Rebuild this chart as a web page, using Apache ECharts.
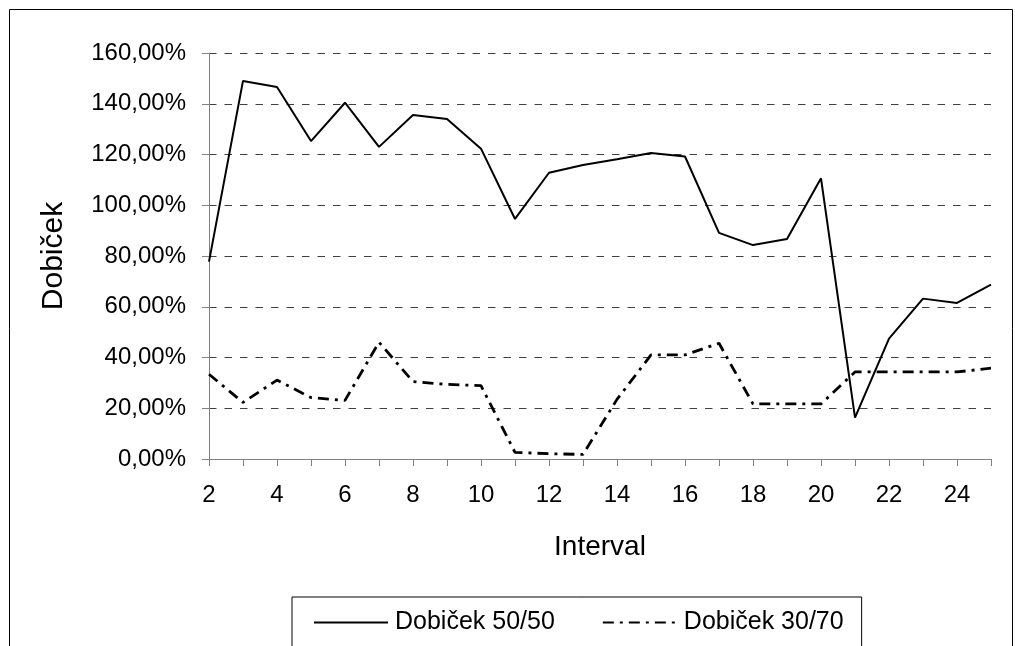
<!DOCTYPE html>
<html>
<head>
<meta charset="utf-8">
<script src="https://cdn.jsdelivr.net/npm/echarts@6/dist/echarts.min.js"></script>
<style>html,body{margin:0;padding:0;background:#fff}#c{width:1015px;height:646px}</style>
</head>
<body>
<div id="c"></div>
<script>
var categories = ['2','3','4','5','6','7','8','9','10','11','12','13','14','15','16','17','18','19','20','21','22','23','24','25'];
var dobicek5050 = [77.8,149.0,146.6,125.3,140.4,123.0,135.6,134.0,122.3,94.6,112.8,115.9,118.1,120.6,119.2,89.1,84.3,86.7,110.6,16.3,47.4,63.2,61.5,68.7];
var dobicek3070 = [33.4,22.3,31.1,24.2,23.1,46.0,30.5,29.4,28.9,2.6,2.1,1.8,23.5,41.0,41.0,45.6,21.7,21.7,21.7,34.3,34.3,34.3,34.3,35.8];
var seriesNames = ['Dobiček 50/50','Dobiček 30/70'];
var FONT = 'Liberation Sans, Arial, sans-serif';

var chart = echarts.init(document.getElementById('c'), null, {renderer:'canvas'});
chart.setOption({
  backgroundColor:'#fff',
  animation:false,
  graphic:[{type:'rect', shape:{x:9.5,y:9.5,width:1003,height:700}, style:{fill:null, stroke:'#000', lineWidth:1}, z:-1}],
  grid:{left:209, right:24, top:53, bottom:187},
  legend:{
    left:292, top:597, orient:'horizontal',
    borderColor:'#000', borderWidth:1,
    padding:[13,18,13,21],
    itemWidth:74, itemHeight:14, itemGap:47,
    itemStyle:{opacity:0},
    textStyle:{fontFamily:FONT, fontSize:25, color:'#000', padding:[0,0,0,2]},
    data:seriesNames
  },
  xAxis:{
    type:'category', data:categories, boundaryGap:false,
    name:'Interval', nameLocation:'middle', nameGap:74,
    nameTextStyle:{fontFamily:FONT, fontSize:28, color:'#000'},
    axisLine:{lineStyle:{color:'#808080', width:1}},
    axisTick:{show:true, length:7, interval:0, lineStyle:{color:'#808080'}},
    axisLabel:{interval:1, fontFamily:FONT, fontSize:24, color:'#000', margin:24},
    splitLine:{show:false}
  },
  yAxis:{
    type:'value', min:0, max:160, interval:20,
    name:'Dobiček', nameLocation:'middle', nameGap:140, nameRotate:90,
    nameTextStyle:{fontFamily:FONT, fontSize:30, color:'#000'},
    axisLine:{show:true, lineStyle:{color:'#808080', width:1}},
    axisTick:{show:true, length:7, lineStyle:{color:'#808080'}},
    axisLabel:{fontFamily:FONT, fontSize:24, color:'#000', margin:23,
      formatter:function(v){return v.toFixed(2).replace('.',',')+'%';}},
    splitLine:{show:true, lineStyle:{color:'#404040', type:[7.5,8], width:1}}
  },
  series:[
    {name:seriesNames[0], type:'line', data:dobicek5050, symbol:'none',
     lineStyle:{color:'#000', width:2, type:'solid'}, itemStyle:{color:'#000'}},
    {name:seriesNames[1], type:'line', data:dobicek3070, symbol:'none',
     lineStyle:{color:'#000', width:2.8, type:[11,6,3,6]}, itemStyle:{color:'#000'}}
  ]
});
</script>
</body>
</html>
